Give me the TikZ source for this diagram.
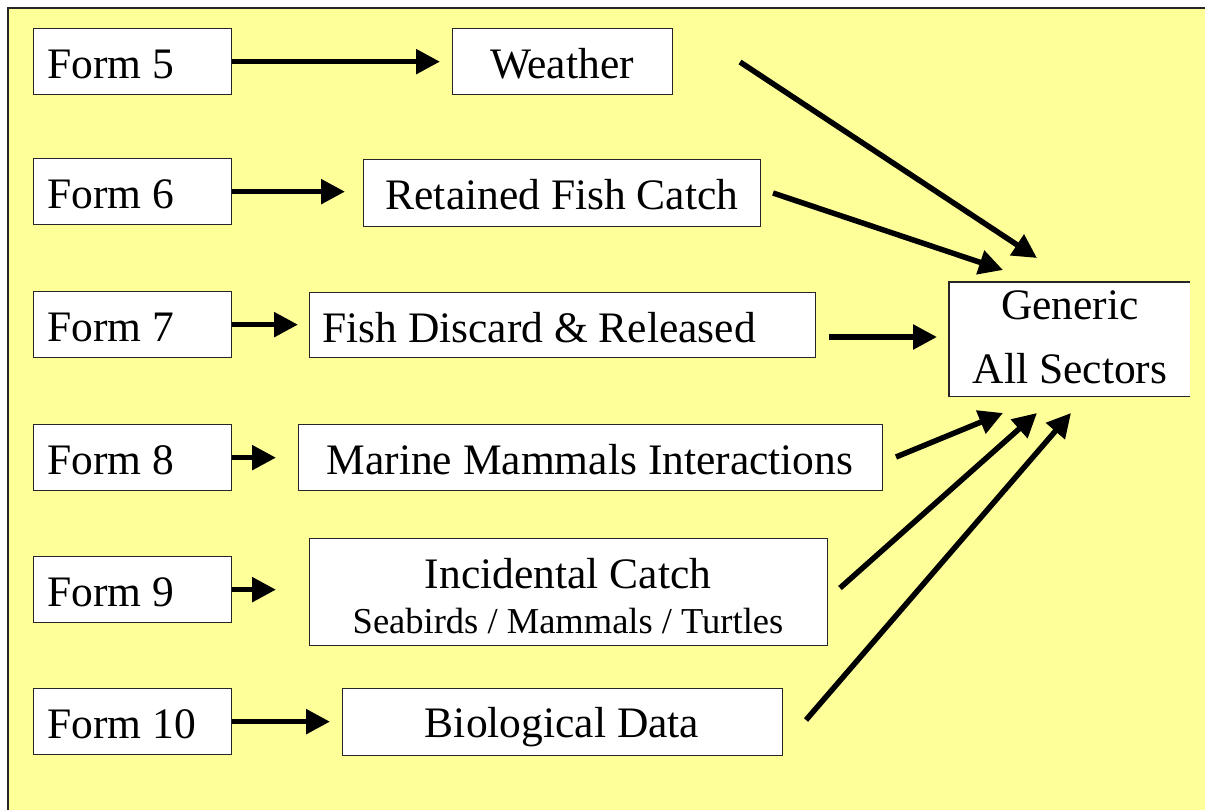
\documentclass[tikz,border=0pt]{standalone}
\usepackage{fontspec}
\setmainfont{Liberation Serif}
\usetikzlibrary{arrows.meta}
\definecolor{bgyellow}{HTML}{FFFF99}
\tikzset{
  box/.style={draw=black!85, line width=1.3pt, fill=white, inner sep=0pt, anchor=north west},
  txt/.style={inner sep=0pt, font=\fontsize{43.5}{52}\selectfont},
  small/.style={inner sep=0pt, font=\fontsize{36.5}{44}\selectfont},
  arr/.style={line width=5.5pt, -{Triangle[length=24pt,width=24pt]}},
}
\begin{document}
\begin{tikzpicture}[x=1pt,y=-1pt]
\useasboundingbox (0,0) rectangle (1205,809);
% background frame
\fill[bgyellow] (8,8) rectangle (1210,815);
\draw[line width=2pt, black!85] (8,815) -- (8,8) -- (1210,8);

% left form boxes
\node[box, minimum width=198pt, minimum height=66pt] (f5) at (33,28) {};
\node[box, minimum width=198pt, minimum height=66pt] (f6) at (33,158) {};
\node[box, minimum width=198pt, minimum height=66pt] (f7) at (33,291) {};
\node[box, minimum width=198pt, minimum height=66pt] (f8) at (33,424) {};
\node[box, minimum width=198pt, minimum height=66pt] (f9) at (33,556) {};
\node[box, minimum width=198pt, minimum height=66pt] (f10) at (33,688) {};
\node[txt, anchor=base west] (t5) at (47,78) {Form 5};
\node[txt, anchor=base west] (t6) at (47,208) {Form 6};
\node[txt, anchor=base west] (t7) at (47,341) {Form 7};
\node[txt, anchor=base west] (t8) at (47,474) {Form 8};
\node[txt, anchor=base west] (t9) at (47,606) {Form 9};
\node[txt, anchor=base west] (t10) at (47,738) {Form 10};

% middle boxes
\node[box, minimum width=220pt, minimum height=66pt] (wea) at (452,28) {};
\node[txt, anchor=base] (twea) at (562,78) {Weather};
\node[box, minimum width=397pt, minimum height=67pt] (ret) at (363,159) {};
\node[txt, anchor=base] (tret) at (562,209) {Retained Fish Catch};
\node[box, minimum width=506pt, minimum height=65pt] (dis) at (309,292) {};
\node[txt, anchor=base west] (tdis) at (322,342) {Fish Discard \& Released};
\node[box, minimum width=584pt, minimum height=66pt] (mar) at (298,424) {};
\node[txt, anchor=base] (tmar) at (590,474) {Marine Mammals Interactions};
\node[box, minimum width=518pt, minimum height=107pt] (inc) at (309,538) {};
\node[txt, anchor=base] (tinc) at (568,588) {Incidental Catch};
\node[small, anchor=base] (tinc2) at (568,633) {Seabirds / Mammals / Turtles};
\node[box, minimum width=440pt, minimum height=67pt] (bio) at (342,688) {};
\node[txt, anchor=base] (tbio) at (562,737) {Biological Data};

% generic box (right side cut off)
\node[fill=white, inner sep=0pt, anchor=north west, minimum width=241pt, minimum height=114pt] (gen) at (949,282) {};
\draw[black!85, line width=1.3pt] (gen.north east) -- (gen.north west) -- (gen.south west) -- (gen.south east);
\node[txt, anchor=base] (tgen1) at (1070,319) {Generic};
\node[txt, anchor=base] (tgen2) at (1070,383) {All Sectors};

% horizontal arrows
\draw[arr, shorten >=12pt] (f5.east) -- (f5.east -| wea.west);
\draw[arr, shorten >=18pt] (f6.east) -- (f6.east -| ret.west);
\draw[arr, shorten >=11pt] (f7.east) -- (f7.east -| dis.west);
\draw[arr, shorten >=22pt] (f8.east) -- (f8.east -| mar.west);
\draw[arr, shorten >=33pt] (f9.east) -- (f9.east -| inc.west);
\draw[arr, shorten >=12pt] (f10.east) -- (f10.east -| bio.west);

% arrows to generic
\coordinate (w1) at (740,62);  \coordinate (g1) at (1037,258);
\coordinate (r1) at (773,193); \coordinate (g2) at (1003,270);
\coordinate (d1) at (829,337); \coordinate (g3) at (937,337);
\coordinate (m1) at (896,457); \coordinate (g4) at (1003,413);
\coordinate (i1) at (840,588); \coordinate (g5) at (1037,413);
\coordinate (b1) at (806,720); \coordinate (g6) at (1071,413);
\draw[arr] (w1) -- (g1);
\draw[arr] (r1) -- (g2);
\draw[arr] (d1) -- (g3);
\draw[arr] (m1) -- (g4);
\draw[arr] (i1) -- (g5);
\draw[arr] (b1) -- (g6);
\end{tikzpicture}
\end{document}
